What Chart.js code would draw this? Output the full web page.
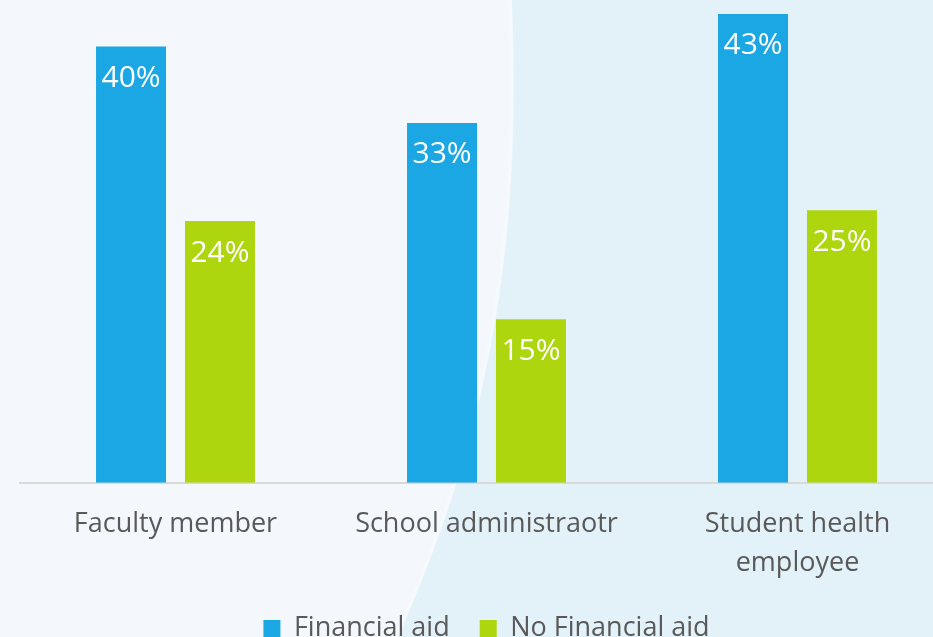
<!DOCTYPE html>
<html>
<head>
<meta charset="utf-8">
<script src="https://cdn.jsdelivr.net/npm/chart.js@4/dist/chart.umd.min.js"></script>
<style>
  html, body { margin: 0; padding: 0; width: 933px; height: 637px; overflow: hidden; background: #f4f8fd; }
  #wrap { position: absolute; left: 0; top: 0; width: 953px; height: 652px; }
</style>
</head>
<body>
<div id="wrap"><canvas id="chart"></canvas></div>
<script>
// Survey groups and the share of each group, by financial-aid status
const categories = ['Faculty member', 'School administraotr', ['Student health', 'employee']];
const seriesNames = ['Financial aid', 'No Financial aid'];
const financialAid = [40, 33, 43];
const noFinancialAid = [24, 15, 25];

const BLUE = '#1ba7e3';
const GREEN = '#aed60e';
const TEXT = '#595959';
const FONT = "'Open Sans', 'Liberation Sans', sans-serif";

// Pale panel with a softly curved lighter-blue region on the right
const backdrop = {
  id: 'backdrop',
  beforeDraw(chart) {
    const { ctx, width, height } = chart;
    ctx.save();
    ctx.fillStyle = '#f4f8fd';
    ctx.fillRect(0, 0, width, height);
    ctx.beginPath();
    ctx.moveTo(512, 0);
    ctx.bezierCurveTo(520, 200, 505, 400, 398, 637);
    ctx.lineTo(392, height);
    ctx.lineTo(width, height);
    ctx.lineTo(width, 0);
    ctx.closePath();
    ctx.fillStyle = '#e3f1f9';
    ctx.fill();
    ctx.beginPath();
    ctx.moveTo(510, 0);
    ctx.bezierCurveTo(518, 200, 503, 400, 396, 637);
    ctx.strokeStyle = 'rgba(255,255,255,0.3)';
    ctx.lineWidth = 3;
    ctx.stroke();
    ctx.restore();
  }
};

// Percentage written inside the top of every bar
const valueLabels = {
  id: 'valueLabels',
  afterDatasetsDraw(chart) {
    const { ctx } = chart;
    ctx.save();
    ctx.fillStyle = '#ffffff';
    ctx.font = `30px ${FONT}`;
    ctx.textAlign = 'center';
    ctx.textBaseline = 'middle';
    chart.data.datasets.forEach((ds, i) => {
      chart.getDatasetMeta(i).data.forEach((bar, j) => {
        ctx.fillText(ds.data[j] + '%', bar.x, bar.y + 32);
      });
    });
    ctx.restore();
  }
};

new Chart(document.getElementById('chart'), {
  type: 'bar',
  data: {
    labels: categories,
    datasets: [
      { label: seriesNames[0], data: financialAid, backgroundColor: BLUE,
        categoryPercentage: 0.572, barPercentage: 0.787 },
      { label: seriesNames[1], data: noFinancialAid, backgroundColor: GREEN,
        categoryPercentage: 0.572, barPercentage: 0.787 }
    ]
  },
  options: {
    responsive: true,
    maintainAspectRatio: false,
    animation: false,
    layout: { padding: { left: 20, right: 0, top: 3, bottom: 0 } },
    scales: {
      x: {
        grid: { display: false },
        border: { color: '#d9d9d9', width: 2 },
        ticks: { color: TEXT, font: { family: FONT, size: 27, lineHeight: 1.45 }, padding: 14, maxRotation: 0 },
        afterFit(scale) { scale.height -= 12; }
      },
      y: { display: false, min: 0, max: 44 }
    },
    plugins: {
      legend: {
        position: 'bottom',
        labels: {
          color: TEXT,
          font: { family: FONT, size: 27 },
          boxWidth: 17, boxHeight: 17,
          padding: 30
        }
      },
      tooltip: { enabled: false }
    }
  },
  plugins: [backdrop, valueLabels]
});
</script>
</body>
</html>
